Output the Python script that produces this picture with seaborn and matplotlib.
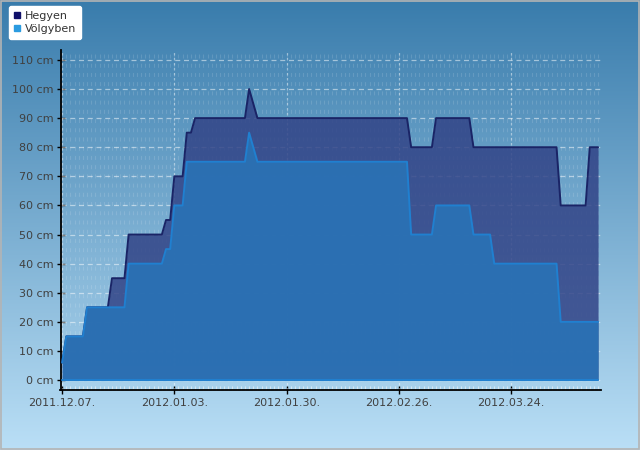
import numpy as np
import pandas as pd
import matplotlib
matplotlib.use("Agg")
import matplotlib.pyplot as plt
import matplotlib.dates as mdates
from matplotlib.lines import Line2D
from matplotlib.patches import Rectangle
from matplotlib.ticker import FuncFormatter, MultipleLocator
import seaborn as sns

# adatok (napok 2011.12.07-tol, hohatar cm-ben)
kezdo_datum = "2011-12-07"
hegyen_nap = [0, 1, 5, 6, 11, 12, 15, 16, 24, 25, 26, 27, 29, 30, 31, 32, 44, 45, 47,
              83, 84, 89, 90, 98, 99, 119, 120, 126, 127, 129]
hegyen_cm = [6, 15, 15, 25, 25, 35, 35, 50, 50, 55, 55, 70, 70, 85, 85, 90, 90, 100, 90,
             90, 80, 80, 90, 90, 80, 80, 60, 60, 80, 80]
volgyben_nap = [0, 1, 5, 6, 15, 16, 24, 25, 26, 27, 29, 30, 44, 45, 47, 83, 84, 89, 90,
                98, 99, 103, 104, 119, 120, 129]
volgyben_cm = [6, 15, 15, 25, 25, 40, 40, 45, 45, 60, 60, 75, 75, 85, 75, 75, 50, 50, 60,
               60, 50, 50, 40, 40, 20, 20]
tick_napok = [0, 27, 54, 81, 108]
y_tickek = list(range(0, 111, 10))

start = pd.Timestamp(kezdo_datum)
df_h = pd.DataFrame({"datum": start + pd.to_timedelta(hegyen_nap, unit="D"), "cm": hegyen_cm})
df_v = pd.DataFrame({"datum": start + pd.to_timedelta(volgyben_nap, unit="D"), "cm": volgyben_cm})

sns.set_style("ticks")
plt.rcParams["font.family"] = ["DejaVu Sans"]

fig = plt.figure(figsize=(6.4, 4.5), dpi=100)

# hatter szinatmenet
bg = fig.add_axes([0, 0, 1, 1], zorder=-10)
grad = np.linspace(0, 1, 256).reshape(-1, 1)
top = np.array([57, 124, 172]) / 255
bot = np.array([186, 223, 246]) / 255
img = top + grad[..., None] * (bot - top)
bg.imshow(img, aspect="auto", extent=[0, 1, 0, 1])
bg.add_patch(Rectangle((0.001, 0.002), 0.997, 0.996, fill=False, ec="#b4b4b4", lw=1.2))
bg.set_xlim(0, 1)
bg.set_ylim(0, 1)
bg.axis("off")

ax = fig.add_axes([60.5 / 640, 60 / 450, 540.5 / 640, 340 / 450])
ax.patch.set_alpha(0)

x0 = mdates.date2num(start)

# racs
for d in range(0, 130):
    ax.axvline(x0 + d, color="white", alpha=0.13, lw=0.8, ls=(0, (3.6, 4.7)), zorder=0)
for d in tick_napok:
    ax.axvline(x0 + d, color="white", alpha=0.45, lw=0.9, ls=(0, (2, 2)), zorder=1)
for y in y_tickek:
    ax.axhline(y, color="white", alpha=0.5, lw=0.9, ls=(0, (4, 3)), zorder=1)

ax.fill_between(df_h["datum"], 0, df_h["cm"], color="#324487", alpha=0.85, lw=0, zorder=2)
sns.lineplot(data=df_h, x="datum", y="cm", color="#1a2466", lw=1.4, ax=ax, zorder=3)
ax.fill_between(df_v["datum"], 0, df_v["cm"], color="#2a72b5", alpha=0.92, lw=0, zorder=4)
sns.lineplot(data=df_v, x="datum", y="cm", color="#2080d0", lw=1.4, ax=ax, zorder=5)
ax.plot([df_v["datum"].iloc[0], df_v["datum"].iloc[-1]], [0, 0], color="#2080d0", lw=1.4, zorder=5)

ax.set_xlim(x0 - 0.4, x0 + 129.7)
ax.set_ylim(-3.4, 113.4)
ax.set_xlabel("")
ax.set_ylabel("")

ax.set_xticks([x0 + d for d in tick_napok])
ax.xaxis.set_major_formatter(mdates.DateFormatter("%Y.%m.%d."))
ax.xaxis.set_minor_locator(MultipleLocator(1))
ax.set_yticks(y_tickek)
ax.yaxis.set_major_formatter(FuncFormatter(lambda v, p: f"{int(v)} cm"))

ax.tick_params(axis="both", which="major", direction="inout", length=6, width=1,
               color="black", labelsize=8, labelcolor="#404040", pad=2)
ax.tick_params(axis="x", which="minor", direction="in", length=3, width=0.8, color="#d5e6f2")
ax.tick_params(axis="x", which="major", pad=3)

for s in ["top", "right"]:
    ax.spines[s].set_visible(False)
for s in ["left", "bottom"]:
    ax.spines[s].set_color("black")
    ax.spines[s].set_linewidth(1.3)

handles = [
    Line2D([], [], marker="s", ls="", color="#10106a", markersize=5),
    Line2D([], [], marker="s", ls="", color="#2b9be0", markersize=5),
]
leg = fig.legend(handles, ["Hegyen", "Völgyben"], loc="upper left",
                 bbox_to_anchor=(9 / 640, 1 - 6 / 450), fontsize=8, frameon=True,
                 fancybox=True, framealpha=1, edgecolor="white", facecolor="white",
                 handlelength=0.6, handletextpad=0.35, labelspacing=0.3,
                 borderpad=0.45, borderaxespad=0)
for t in leg.get_texts():
    t.set_color("#333333")

fig.savefig("out.png", dpi=100)
